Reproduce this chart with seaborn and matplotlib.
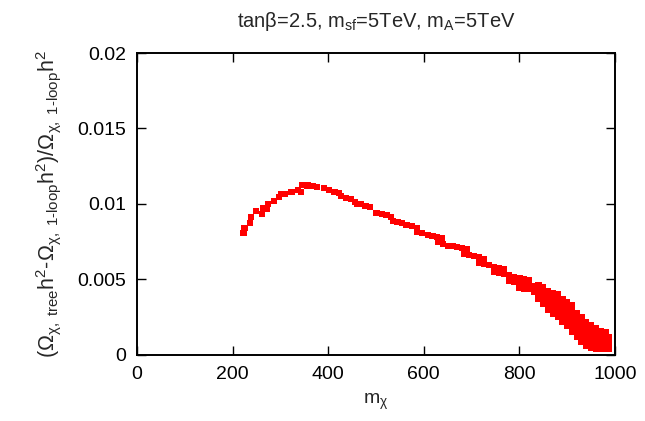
import matplotlib
matplotlib.use("Agg")
import matplotlib.pyplot as plt
import seaborn as sns
import pandas as pd

# values
# rising branch and the two thin bands
curve_m = [223, 225, 237, 239, 249, 262, 264, 272, 274, 287, 297, 302, 310, 323,
           336, 343, 346, 356, 358, 369, 377, 391, 402, 413, 423, 426, 437, 447,
           456, 460, 468, 478, 488, 501, 512, 522, 532, 535, 545, 554, 564, 575,
           585, 586, 597, 608, 618, 627, 629, 638, 640, 650, 661, 670, 680, 691,
           684, 694, 705, 715, 725, 716, 726, 737, 747, 758, 767, 747, 758, 768,
           779, 789, 800, 809, 820, 779, 789, 800, 810, 820, 831, 842, 800, 810,
           820]
curve_r = [0.00810, 0.00841, 0.00874, 0.00912, 0.00951, 0.00934, 0.00971, 0.00969,
           0.00998, 0.01018, 0.01044, 0.01064, 0.01066, 0.01077, 0.01091, 0.01082,
           0.01124, 0.01119, 0.01124, 0.01119, 0.01113, 0.01104, 0.01093, 0.01077,
           0.01071, 0.01051, 0.01038, 0.01031, 0.01015, 0.01002, 0.00998, 0.00987,
           0.00978, 0.00938, 0.00932, 0.00927, 0.00914, 0.00885, 0.00879, 0.00872,
           0.00859, 0.00854, 0.00839, 0.00815, 0.00808, 0.00795, 0.00788, 0.00779,
           0.00750, 0.00773, 0.00735, 0.00724, 0.00720, 0.00713, 0.00707, 0.00700,
           0.00667, 0.00660, 0.00654, 0.00647, 0.00634, 0.00607, 0.00601, 0.00594,
           0.00585, 0.00578, 0.00568, 0.00548, 0.00541, 0.00534, 0.00530, 0.00519,
           0.00512, 0.00503, 0.00499, 0.00490, 0.00483, 0.00475, 0.00468, 0.00462,
           0.00455, 0.00448, 0.00442, 0.00439, 0.00439]

# dense tail near the upper mass limit
tail_m = [830, 840, 840, 840, 840,
          850, 850, 850, 850, 850,
          860, 860, 860, 860, 860,
          870, 870, 870, 870, 870, 870,
          880, 880, 880, 880, 880, 880,
          890, 890, 890, 890, 890, 890,
          900, 900, 900, 900, 900, 900,
          910, 910, 910, 910, 910, 910, 910,
          920, 920, 920, 920, 920, 920,
          930, 930, 930, 930, 930, 930,
          940, 940, 940, 940, 940, 940,
          950, 950, 950, 950, 950, 950,
          960, 960, 960, 960, 960, 960,
          970, 970, 970, 970, 970,
          980, 980, 980, 980, 980,
          987, 987, 987, 987]
tail_r = [0.0042, 0.0046, 0.0043, 0.0040, 0.0037,
          0.0045, 0.0042, 0.0039, 0.0036, 0.0034,
          0.0042, 0.0039, 0.0036, 0.0033, 0.0030,
          0.0041, 0.0038, 0.0035, 0.0032, 0.0029, 0.0027,
          0.0040, 0.0037, 0.0034, 0.0031, 0.0028, 0.0025,
          0.0037, 0.0034, 0.0031, 0.0028, 0.0025, 0.0022,
          0.0035, 0.0032, 0.0029, 0.0026, 0.0023, 0.0019,
          0.0033, 0.0030, 0.0027, 0.0024, 0.0021, 0.0018, 0.0015,
          0.0028, 0.0025, 0.0022, 0.0019, 0.0016, 0.0012,
          0.0025, 0.0022, 0.0019, 0.0016, 0.0013, 0.0009,
          0.0022, 0.0019, 0.0016, 0.0013, 0.0010, 0.0006,
          0.0020, 0.0017, 0.0014, 0.0011, 0.0008, 0.0005,
          0.0018, 0.0015, 0.0012, 0.0009, 0.0006, 0.0004,
          0.0016, 0.0013, 0.0010, 0.0007, 0.0004,
          0.0015, 0.0012, 0.0009, 0.0006, 0.0004,
          0.0012, 0.0009, 0.0006, 0.0004]

x_ticks = [0, 200, 400, 600, 800, 1000]
y_ticks = [0, 0.005, 0.01, 0.015, 0.02]
y_tick_labels = ["0", "0.005", "0.01", "0.015", "0.02"]

df = pd.DataFrame({"m": curve_m + tail_m, "ratio": curve_r + tail_r})

sns.set_style("ticks")
plt.rcParams["font.family"] = ["Liberation Sans", "DejaVu Sans"]
plt.rcParams["mathtext.fontset"] = "custom"
plt.rcParams["mathtext.rm"] = "Liberation Sans"
plt.rcParams["mathtext.it"] = "Liberation Sans"
plt.rcParams["mathtext.bf"] = "Liberation Sans:bold"

fig = plt.figure(figsize=(6.45, 4.21), dpi=100)
ax = fig.add_axes([0.2124, 0.1568, 0.7411, 0.7173])

sns.scatterplot(data=df, x="m", y="ratio", marker="s", s=20, color="#ff0000",
                edgecolor="none", linewidth=0, ax=ax, legend=False)

ax.set_xlim(0, 1000)
ax.set_ylim(0, 0.02)
ax.set_xticks(x_ticks)
ax.set_yticks(y_ticks)
ax.set_yticklabels(y_tick_labels)
ax.tick_params(direction="in", length=6.5, width=1.0, top=True, right=True,
               labelsize=14, pad=8, colors="black")
for sp in ax.spines.values():
    sp.set_visible(True)
    sp.set_linewidth(1.4)
    sp.set_color("black")

ax.set_xlabel(r"m$_{\chi}$", fontsize=14, labelpad=6)
ax.set_ylabel(r"($\Omega_{\chi,\ \mathrm{tree}}$h$^2$-$\Omega_{\chi,\ \mathrm{1\text{-}loop}}$h$^2$)/$\Omega_{\chi,\ \mathrm{1\text{-}loop}}$h$^2$",
              fontsize=15.5, labelpad=10)
ax.set_title(r"tan$\beta$=2.5, m$_{\mathrm{sf}}$=5TeV, m$_{\mathrm{A}}$=5TeV",
             fontsize=14.5, pad=19)

fig.savefig("out.png", dpi=100)
